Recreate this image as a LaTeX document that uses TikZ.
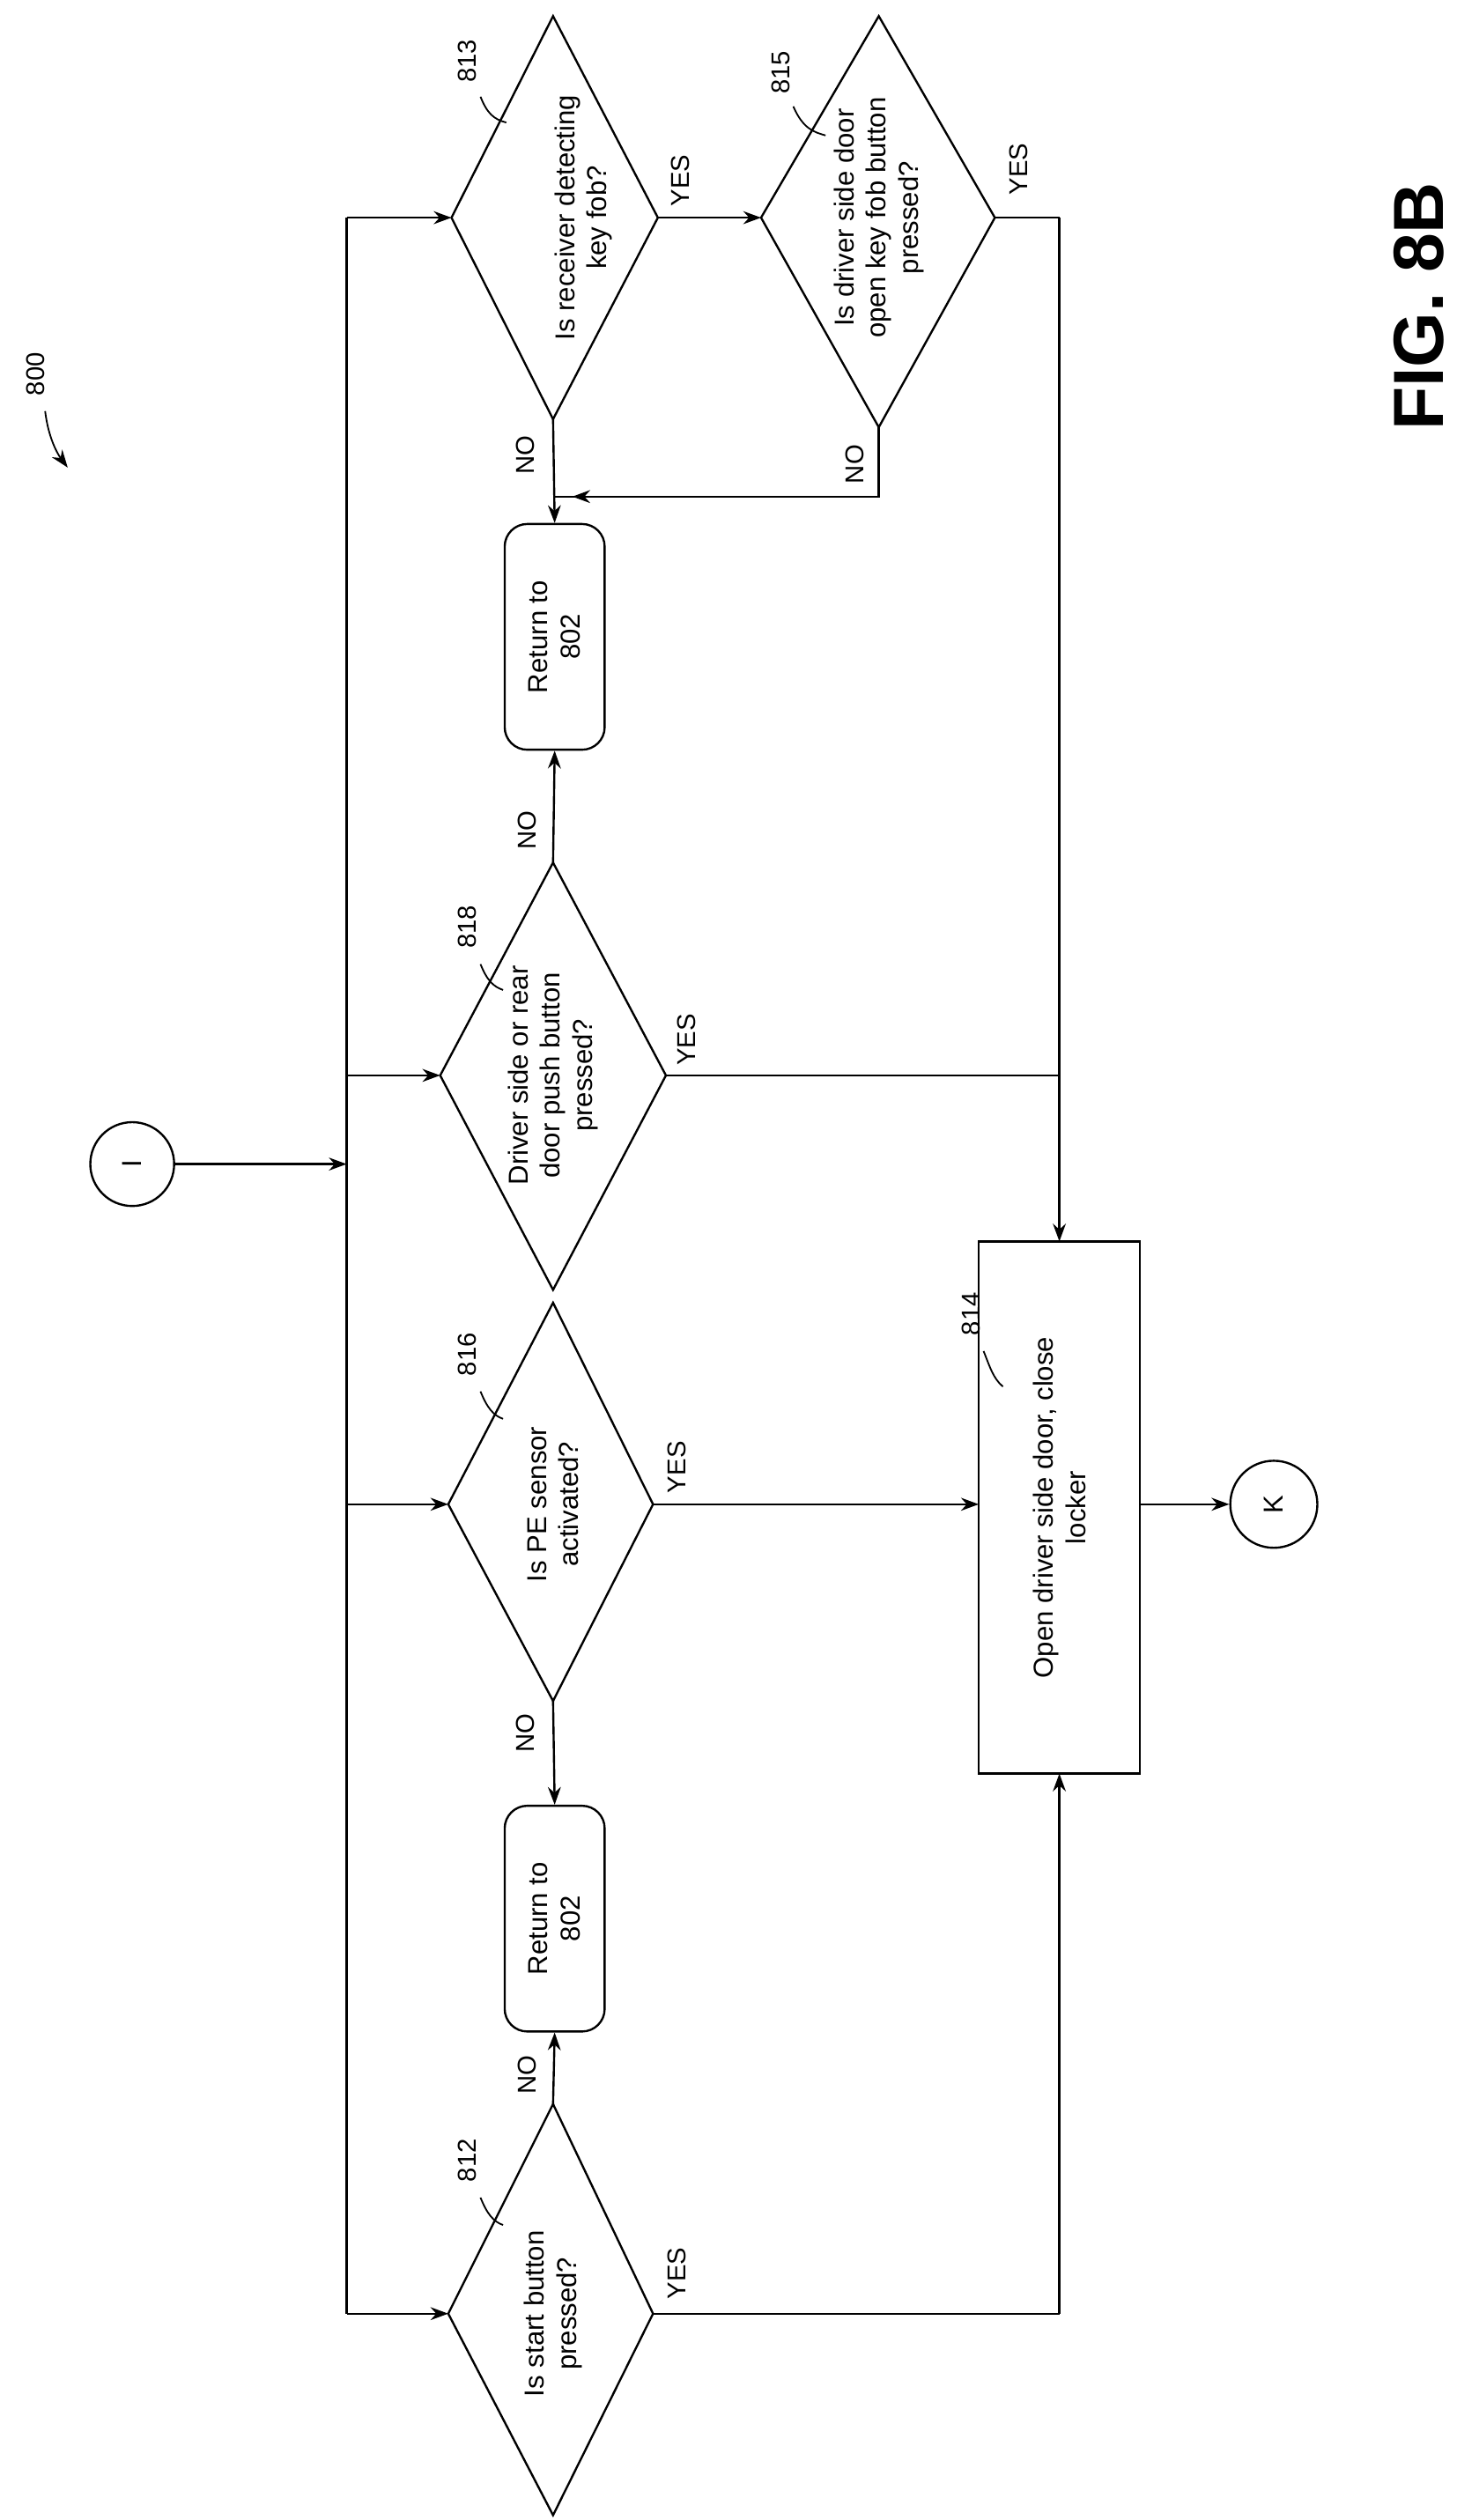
\documentclass[tikz,border=0pt]{standalone}
\usepackage{fontspec}
\setmainfont{Liberation Sans}
\usetikzlibrary{arrows.meta}
\begin{document}
\begin{tikzpicture}[x=1pt,y=-1pt,line width=1.3pt,
  arr/.style={-{Stealth[length=11pt,width=8pt]}},
  txt/.style={rotate=90,align=center,font=\fontsize{17}{20}\selectfont},
  lbl/.style={rotate=90,font=\fontsize{16}{19}\selectfont},
  rbox/.style={draw,rounded corners=14pt,rotate=90,minimum width=140pt,minimum height=62pt,align=center,font=\fontsize{17}{20}\selectfont,inner sep=2pt}]
\useasboundingbox (0,0) rectangle (917,1563);
% 813
\coordinate (d13l) at (280,135); \coordinate (d13r) at (408,135);
\coordinate (d13t) at (343,10); \coordinate (d13b) at (343,260);
\draw (d13l)--(d13t)--(d13r)--(d13b)--cycle;
\node[txt] (t13) at (362,135) {Is receiver detecting\\key fob?};
% 815
\coordinate (d15l) at (472,135); \coordinate (d15r) at (617,135);
\coordinate (d15t) at (545,10); \coordinate (d15b) at (545,265);
\draw (d15l)--(d15t)--(d15r)--(d15b)--cycle;
\node[txt] (t15) at (545,135) {Is driver side door\\open key fob button\\pressed?};
% 818
\coordinate (d18l) at (273,667); \coordinate (d18r) at (413,667);
\coordinate (d18t) at (343,535); \coordinate (d18b) at (343,800);
\draw (d18l)--(d18t)--(d18r)--(d18b)--cycle;
\node[txt] (t18) at (343,667) {Driver side or rear\\door push button\\pressed?};
% 816
\coordinate (d16l) at (278,933); \coordinate (d16r) at (405,933);
\coordinate (d16t) at (343,808); \coordinate (d16b) at (343,1055);
\draw (d16l)--(d16t)--(d16r)--(d16b)--cycle;
\node[txt] (t16) at (343,933) {Is PE sensor\\activated?};
% 812
\coordinate (d12l) at (278,1435); \coordinate (d12r) at (405,1435);
\coordinate (d12t) at (343,1305); \coordinate (d12b) at (343,1560);
\draw (d12l)--(d12t)--(d12r)--(d12b)--cycle;
\node[txt] (t12) at (343,1435) {Is start button\\pressed?};
% return boxes
\node[rbox] (r1) at (344,395) {Return to\\802};
\node[rbox] (r2) at (344,1190) {Return to\\802};
% box 814
\draw (607,770) rectangle (707,1100);
\node[txt] (b14) at (657,935) {Open driver side door, close\\locker};
\coordinate (b14t) at (657,770); \coordinate (b14b) at (657,1100);
\coordinate (b14l) at (607,933); \coordinate (b14r) at (707,933);
% circles
\node[draw,circle,minimum size=52pt,font=\fontsize{17}{20}\selectfont] (cI) at (82,722) {\rotatebox{90}{I}};
\node[draw,circle,minimum size=54pt,font=\fontsize{17}{20}\selectfont] (cK) at (790,933) {\rotatebox{90}{K}};
% spine
\coordinate (s1) at (215,135); \coordinate (s2) at (215,1435);
\coordinate (s18) at (215,667); \coordinate (s16) at (215,933); \coordinate (sI) at (215,722);
\draw (s1)--(s2);
\draw[arr] (cI)--(sI);
\draw[arr] (s1)--(d13l);
\draw[arr] (s18)--(d18l);
\draw[arr] (s16)--(d16l);
\draw[arr] (s2)--(d12l);
% 813 flows
\draw[arr] (d13r)--(d15l);
\draw[arr] (d13b)--(r1.east);
\coordinate (n15) at (545,308); \coordinate (m15) at (343,308);
\draw (d15b)--(n15)--(m15);
\draw[arr] (n15)--(355,308);
% right rail
\coordinate (rt) at (657,135);
\draw (d15r)--(rt);
\draw[arr] (rt)--(b14t);
\coordinate (y18) at (657,667);
\draw (d18r)--(y18);
\draw[arr] (d18t)--(r1.west);
\draw[arr] (d16r)--(b14l);
\draw[arr] (d16b)--(r2.east);
\draw[arr] (d12t)--(r2.west);
\coordinate (y12) at (657,1435);
\draw (d12r)--(y12);
\draw[arr] (y12)--(b14b);
\draw[arr] (b14r)--(cK);
% YES / NO
\node[lbl] at (422,112) {YES};
\node[lbl] at (632,105) {YES};
\node[lbl] at (426,645) {YES};
\node[lbl] at (420,910) {YES};
\node[lbl] at (420,1410) {YES};
\node[lbl] at (326,282) {NO};
\node[lbl] at (530,288) {NO};
\node[lbl] at (327,515) {NO};
\node[lbl] at (326,1075) {NO};
\node[lbl] at (327,1287) {NO};
% reference numbers
\node[lbl] (n813) at (290,38) {813};
\draw[line width=1pt] (298,60) .. controls (302,70) and (306,74) .. (314,76);
\node[lbl] (n815) at (484,45) {815};
\draw[line width=1pt] (492,66) .. controls (498,80) and (505,82) .. (512,84);
\node[lbl] (n818) at (290,575) {818};
\draw[line width=1pt] (298,598) .. controls (302,608) and (306,612) .. (312,614);
\node[lbl] (n814) at (602,815) {814};
\draw[line width=1pt] (610,838) .. controls (614,848) and (616,855) .. (622,860);
\node[lbl] (n816) at (290,840) {816};
\draw[line width=1pt] (298,863) .. controls (302,873) and (306,878) .. (312,880);
\node[lbl] (n812) at (290,1340) {812};
\draw[line width=1pt] (298,1363) .. controls (302,1373) and (306,1378) .. (312,1380);
\node[lbl] (n800) at (22,232) {800};
\coordinate (a800) at (42,290);
\draw[arr,line width=1pt] (28,255) .. controls (30,272) and (36,282) .. (a800);
\node[rotate=90,font=\bfseries\fontsize{44}{50}\selectfont] (fig) at (880,190) {FIG. 8B};
\end{tikzpicture}
\end{document}
